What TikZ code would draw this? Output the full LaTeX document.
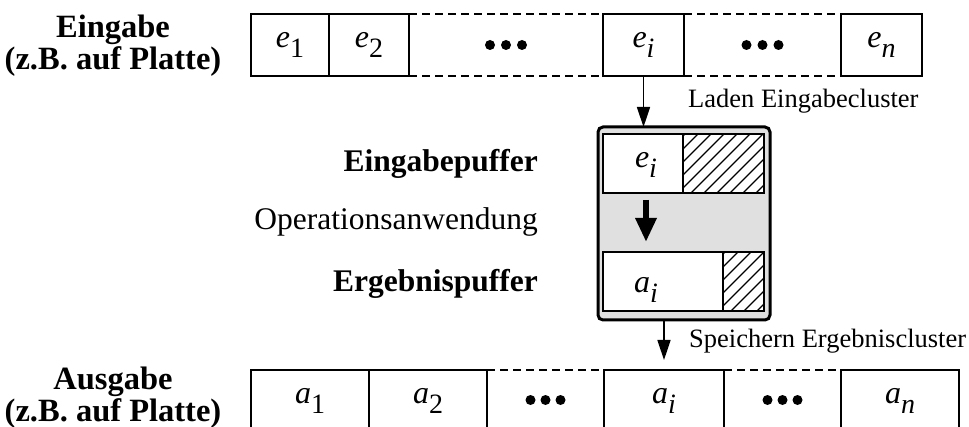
\documentclass[tikz,border=0pt]{standalone}
\usepackage{fontspec}
\setmainfont{Liberation Serif}
\usetikzlibrary{arrows.meta}
\definecolor{bufgray}{RGB}{224,224,224}
% italic symbol with a lowered index, as in e_1 or a_i
\newcommand\symidx[2]{{\fontsize{32}{32}\selectfont\itshape #1}{\fontsize{28}{28}\selectfont\raisebox{-10pt}{#2}}}
\begin{document}
\begin{tikzpicture}[x=1pt,y=-1pt,
  cell/.style={draw, line width=2.5pt, fill=white, minimum width=#1, minimum height=62pt,
    inner sep=0pt, outer sep=0pt, text height=16pt, text depth=10pt, anchor=north west},
  lowcell/.style={cell=#1, minimum height=60pt},
  gapcell/.style={cell=#1, draw=none, fill=none},
  lowgap/.style={lowcell=#1, draw=none, fill=none},
  dashline/.style={line width=2pt, dash pattern=on 8pt off 5pt},
  dot/.style={fill=black},
  buffer/.style={draw, line width=3pt, fill=bufgray, rounded corners=5pt, minimum width=172pt,
    minimum height=193pt, inner sep=0pt, outer sep=0pt, anchor=north west},
  inbox/.style={draw, line width=2.2pt, fill=white, minimum width=#1, minimum height=59pt,
    inner sep=0pt, outer sep=0pt, anchor=north west},
  hatch/.style={line width=1.3pt},
  thinarrow/.style={line width=1.6pt, -{Triangle[length=20pt,width=13pt]}},
  bigarrow/.style={line width=6pt, -{Triangle[length=24pt,width=20pt]}},
  headtext/.style={font=\fontsize{32.5}{33}\selectfont\bfseries, inner sep=0pt, anchor=base},
  bufname/.style={font=\fontsize{31.5}{32}\selectfont\bfseries, inner sep=0pt, anchor=base east},
  optext/.style={font=\fontsize{31.5}{32}\selectfont, inner sep=0pt, anchor=base east},
  steptext/.style={font=\fontsize{26.5}{27}\selectfont, inner sep=0pt, anchor=base west},
]
\path[use as bounding box, clip] (0,0) rectangle (969,427);

% ---- input row ----
\node[headtext] (inA1) at (113,38) {Eingabe};
\node[headtext] (inA2) at (113,70) {(z.B. auf Platte)};

\node[gapcell=194pt] (g1) at (409,14) {};
\node[gapcell=157pt] (g2) at (684,14) {};
\draw[dashline] (g1.north west) -- (g1.north east) (g1.south west) -- (g1.south east);
\draw[dashline] (g2.north west) -- (g2.north east) (g2.south west) -- (g2.south east);
\foreach \d in {-16,0,16} {
  \fill[dot] ([xshift=\d pt]g1.center) circle (5pt);
  \fill[dot] ([xshift=\d pt]g2.center) circle (5pt);
}
\node[cell=78pt] (e1) at (251,14) {\symidx{e}{1}};
\node[cell=80pt] (e2) at (e1.north east) {\symidx{e}{2}};
\node[cell=81pt] (ei) at (g1.north east) {\symidx{e}{\itshape i}};
\node[cell=81pt] (en) at (g2.north east) {\symidx{e}{\itshape n}};

% ---- buffers ----
\node[buffer] (buf) at (598,127) {};
\node[inbox=80pt] (inA) at (603,134) {};
\node[inbox=81pt] (hA) at (inA.north east) {};
\node[inbox=120pt] (inB) at (603,252) {};
\node[inbox=41pt] (hB) at (inB.north east) {};
\begin{scope}
  \clip (hA.north west) rectangle (hA.south east);
  \foreach \c in {806,819,...,975}
    \draw[hatch] (\c-134,134) -- (\c-193,193);
\end{scope}
\begin{scope}
  \clip (hB.north west) rectangle (hB.south east);
  \foreach \c in {964,977,...,1090}
    \draw[hatch] (\c-252,252) -- (\c-311,311);
\end{scope}
\draw[line width=2.2pt] (hA.north west) rectangle (hA.south east);
\draw[line width=2.2pt] (hB.north west) rectangle (hB.south east);
\node[inner sep=0pt, anchor=base] (lblA) at (646,168) {\symidx{e}{\itshape i}};
\node[inner sep=0pt, anchor=base] (lblB) at (646,293) {\symidx{a}{\itshape i}};
\draw[bigarrow, shorten <=7pt, shorten >=10pt] (lblA.base |- inA.south) -- (lblA.base |- inB.north);

\node[bufname] (nA) at (538,172) {Eingabepuffer};
\node[optext] (op) at (538,230) {Operationsanwendung};
\node[bufname] (nB) at (538,292) {Ergebnispuffer};

% ---- output row ----
\node[headtext] (outA1) at (113,389) {Ausgabe};
\node[headtext] (outA2) at (113,421) {(z.B. auf Platte)};

\node[lowgap=117pt] (g3) at (487,370) {};
\node[lowgap=117pt] (g4) at (724,370) {};
\draw[dashline] (g3.north west) -- (g3.north east) (g3.south west) -- (g3.south east);
\draw[dashline] (g4.north west) -- (g4.north east) (g4.south west) -- (g4.south east);
\foreach \d in {-15,0,15} {
  \fill[dot] ([xshift=\d pt]g3.center) circle (5pt);
  \fill[dot] ([xshift=\d pt]g4.center) circle (5pt);
}
\node[lowcell=118pt] (a1) at (251,370) {\symidx{a}{1}};
\node[lowcell=118pt] (a2) at (a1.north east) {\symidx{a}{2}};
\node[lowcell=120pt] (ai) at (g3.north east) {\symidx{a}{\itshape i}};
\node[lowcell=118pt] (an) at (g4.north east) {\symidx{a}{\itshape n}};

% ---- transfers ----
\draw[thinarrow] (ei.south) -- (ei.south |- buf.north);
\node[steptext] (load) at (688,108) {Laden Eingabecluster};
\draw[thinarrow, shorten >=10pt] (ai.north |- buf.south) -- (ai.north);
\node[steptext] (store) at (689,348) {Speichern Ergebniscluster};
\end{tikzpicture}
\end{document}
